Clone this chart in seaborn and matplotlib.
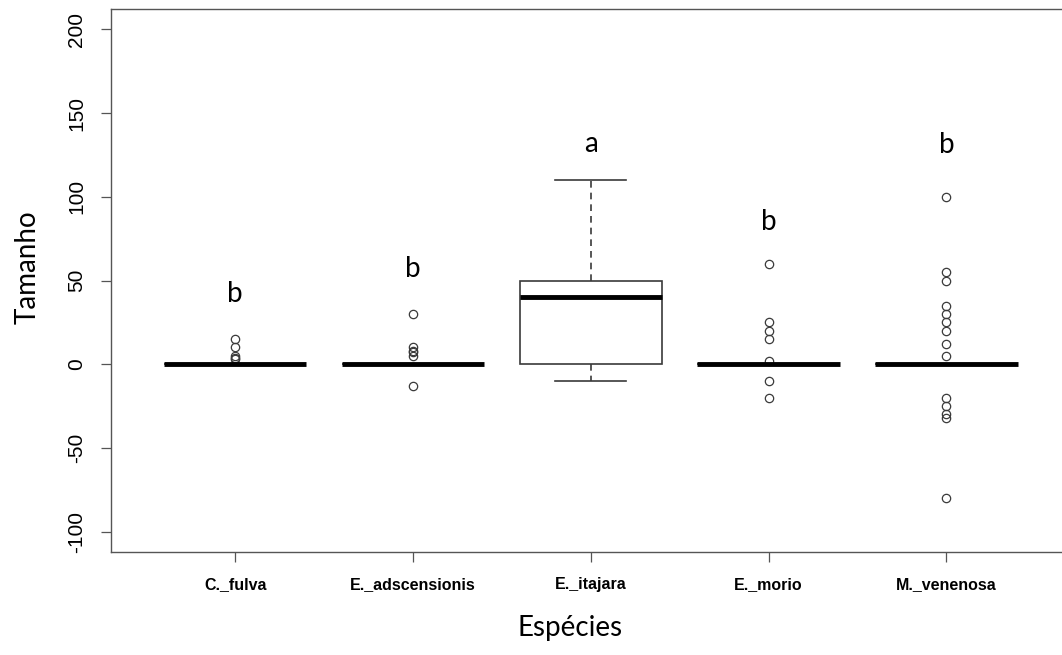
import pandas as pd
import matplotlib.pyplot as plt
import seaborn as sns

# Dados
especies = ['C._fulva', 'E._adscensionis', 'E._itajara', 'E._morio', 'M._venenosa']

c_fulva = [15, 10, 5, 4, 3] + [0] * 20
e_adscensionis = [30, 10, 8, 7, 5, -13] + [0] * 20
e_itajara = [-10, 0, 0, 20, 40, 45, 50, 50, 110]
e_morio = [60, 25, 20, 15, 2, -10, -20] + [0] * 20
m_venenosa = [100, 55, 50, 35, 30, 25, 20, 12, 5, -20, -25, -30, -32, -80] + [0] * 30

# letras do teste de comparação e sua altura
letras = ['b', 'b', 'a', 'b', 'b']
letras_y = [37, 52, 127, 80, 126]

y_ticks = [-100, -50, 0, 50, 100, 150, 200]

valores = [c_fulva, e_adscensionis, e_itajara, e_morio, m_venenosa]
df = pd.DataFrame({
    'Especie': [e for e, v in zip(especies, valores) for _ in v],
    'Tamanho': [x for v in valores for x in v],
})

plt.rcParams['axes.unicode_minus'] = False

fig = plt.figure(figsize=(10.62, 6.55), dpi=100)
ax = fig.add_axes([0.1042, 0.1577, 0.9042, 0.8281])

edge = '#3a3a3a'
sns.boxplot(data=df, x='Especie', y='Tamanho', order=especies, ax=ax,
            color='white', linecolor=edge, linewidth=1.2, width=0.8,
            whis=1.5, fliersize=6,
            flierprops=dict(marker='o', markerfacecolor='none',
                            markeredgecolor=edge, markeredgewidth=0.9),
            medianprops=dict(color='black', linewidth=3.5),
            whiskerprops=dict(linestyle=(0, (4, 3))),
            capprops=dict(linestyle='-'))

for i, (l, y) in enumerate(zip(letras, letras_y)):
    ax.text(i, y, l, ha='center', va='baseline', fontsize=20, family='Lato')

ax.set_xlim(-0.7, 4.7)
ax.set_ylim(-112, 212)
ax.set_yticks(y_ticks)
ax.set_xlabel('')
ax.set_ylabel('')

for s in ax.spines.values():
    s.set_color('#555555')
    s.set_linewidth(1.0)

ax.tick_params(axis='both', direction='out', length=7.5, width=0.9,
               color='#555555')
ax.tick_params(axis='y', pad=10, labelsize=15)
ax.tick_params(axis='x', pad=11)
for t in ax.get_yticklabels():
    t.set_rotation(90)
    t.set_va('center')
    t.set_family('Liberation Sans')
for t in ax.get_xticklabels():
    t.set_family(['Liberation Sans Narrow', 'Liberation Sans'])
    t.set_fontweight('bold')
    t.set_fontsize(11.5)

fig.text(570 / 1062, 1 - 628 / 655, 'Espécies', ha='center', va='center',
         fontsize=20, family='Lato')
fig.text(28 / 1062, 1 - 267 / 655, 'Tamanho', ha='center', va='center',
         rotation=90, fontsize=20, family='Lato')

fig.savefig('out.png', dpi=100)
